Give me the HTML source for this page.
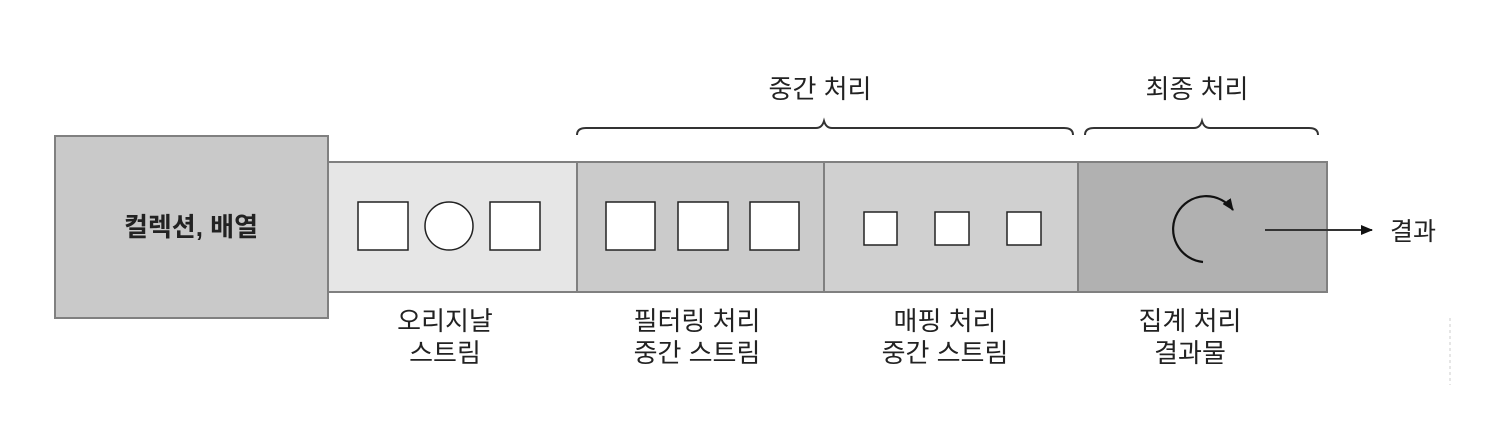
<!DOCTYPE html>
<html><head><meta charset="utf-8"><style>
body{margin:0;background:#fff;width:1488px;height:436px;overflow:hidden}
svg text{font-family:"Liberation Sans","Noto Sans CJK KR","NanumGothic",sans-serif;fill:#222}
</style></head><body>
<svg width="1488" height="436" xmlns="http://www.w3.org/2000/svg">
<defs><marker id="ah" markerWidth="12" markerHeight="10" refX="11" refY="5" orient="auto" markerUnits="userSpaceOnUse"><path d="M0,0 L12,5 L0,10 Z" fill="#111"/></marker></defs>
<rect x="328" y="162" width="249" height="130" fill="#e6e6e6" stroke="#808080" stroke-width="2"/>
<rect x="577" y="162" width="247" height="130" fill="#cbcbcb" stroke="#808080" stroke-width="2"/>
<rect x="824" y="162" width="254" height="130" fill="#d0d0d0" stroke="#808080" stroke-width="2"/>
<rect x="1078" y="162" width="249" height="130" fill="#b1b1b1" stroke="#808080" stroke-width="2"/>
<rect x="55" y="136" width="273" height="182" fill="#c9c9c9" stroke="#808080" stroke-width="2"/>
<text x="191" y="236" font-size="26" font-weight="bold" text-anchor="middle">컬렉션, 배열</text>
<g fill="#fff" stroke="#222" stroke-width="1.5">
<rect x="358" y="202" width="50" height="48"/><circle cx="449" cy="226" r="24"/><rect x="490" y="202" width="50" height="48"/>
<rect x="606" y="202" width="49" height="48"/><rect x="678" y="202" width="50" height="48"/><rect x="750" y="202" width="49" height="48"/>
<rect x="864" y="212" width="33" height="33"/><rect x="935" y="212" width="34" height="33"/><rect x="1007" y="212" width="34" height="33"/>
</g>
<path d="M1203,262 A33,33 0 1 1 1233,210" fill="none" stroke="#111" stroke-width="2.2" marker-end="url(#ah)"/>
<line x1="1265" y1="230" x2="1372" y2="230" stroke="#333" stroke-width="2" marker-end="url(#ah)"/>
<text x="1390" y="240" font-size="25">결과</text>
<g fill="none" stroke="#333" stroke-width="2">
<path d="M577,135 Q577,128 586,128 L816,128 Q822,128 824,121 Q826,128 832,128 L1064,128 Q1073,128 1073,135"/>
<path d="M1085,135 Q1085,128 1094,128 L1194,128 Q1200,128 1202,121 Q1204,128 1210,128 L1309,128 Q1318,128 1318,135"/>
</g>
<g font-size="26" text-anchor="middle">
<text x="820" y="98">중간 처리</text>
<text x="1197" y="98">최종 처리</text>
<text x="445" y="330">오리지날</text><text x="445" y="362">스트림</text>
<text x="697" y="330">필터링 처리</text><text x="697" y="362">중간 스트림</text>
<text x="945" y="330">매핑 처리</text><text x="945" y="362">중간 스트림</text>
<text x="1190" y="330">집계 처리</text><text x="1190" y="362">결과물</text>
</g>
<line x1="1450" y1="318" x2="1450" y2="385" stroke="#ccc" stroke-width="1" stroke-dasharray="3,3"/>
</svg>
</body></html>
